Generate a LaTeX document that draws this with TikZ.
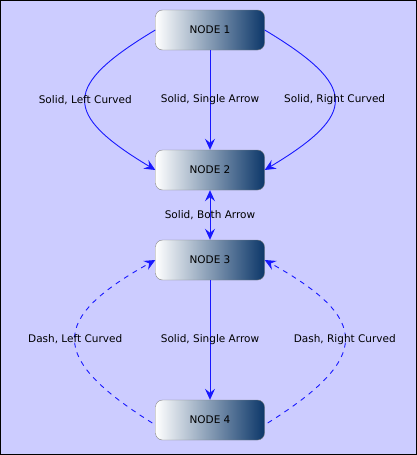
\documentclass[tikz,border=0pt]{standalone}
\usepackage{fontspec}
\setmainfont{DejaVu Sans}
\usetikzlibrary{arrows.meta}
\definecolor{bgcol}{RGB}{204,204,255}
\definecolor{navy}{RGB}{12,55,105}
\definecolor{edgeblue}{RGB}{25,25,255}
\tikzset{
  statenode/.style={draw=gray, rounded corners=7pt, minimum width=109pt, minimum height=40pt,
    left color=white, right color=navy, font=\fontsize{10.5}{12}\selectfont},
  link/.style={edgeblue, line width=0.9pt, -{Stealth[length=11pt,width=10pt,inset=4pt]}},
  lbl/.style={font=\fontsize{10.5}{12}\selectfont, text=black}
}
\begin{document}
\begin{tikzpicture}[x=1pt, y=-1pt]
    % Background
    \fill[bgcol] (0,0) rectangle (417,455);
    \draw[black, line width=1pt] (0.5,0.5) rectangle (416.5,454.5);

    % Nodes
    \node[statenode] (n1) at (210,30) {NODE 1};
    \node[statenode] (n2) at (210,170) {NODE 2};
    \node[statenode] (n3) at (210,260) {NODE 3};
    \node[statenode] (n4) at (210,420) {NODE 4};

    % Node 1 to node 2
    \draw[link] (n1.west) .. controls (62,86) and (62,114) .. (n2.west)
        node[midway, lbl] {Solid, Left Curved};
    \draw[link] (n1.south) -- (n2.north) node[midway, lbl] {Solid, Single Arrow};
    \draw[link] (n1.east) .. controls (358,86) and (358,114) .. (n2.east)
        node[midway, lbl] {Solid, Right Curved};

    % Node 2 and node 3
    \draw[link, {Stealth[length=11pt,width=10pt,inset=4pt]}-{Stealth[length=11pt,width=10pt,inset=4pt]}]
        (n2.south) -- (n3.north) node[midway, lbl] {Solid, Both Arrow};

    % Node 3 and node 4
    \draw[link] (n3.south) -- (n4.north) node[midway, lbl] {Solid, Single Arrow};
    \draw[link, dash pattern=on 5pt off 5pt] ([xshift=-3pt,yshift=-3pt]n4.west) .. controls (49,358) and (49,319) .. (n3.west)
        node[midway, lbl] {Dash, Left Curved};
    \draw[link, dash pattern=on 5pt off 5pt] ([xshift=3pt,yshift=-3pt]n4.east) .. controls (371,358) and (371,319) .. (n3.east)
        node[midway, lbl] {Dash, Right Curved};
\end{tikzpicture}
\end{document}
